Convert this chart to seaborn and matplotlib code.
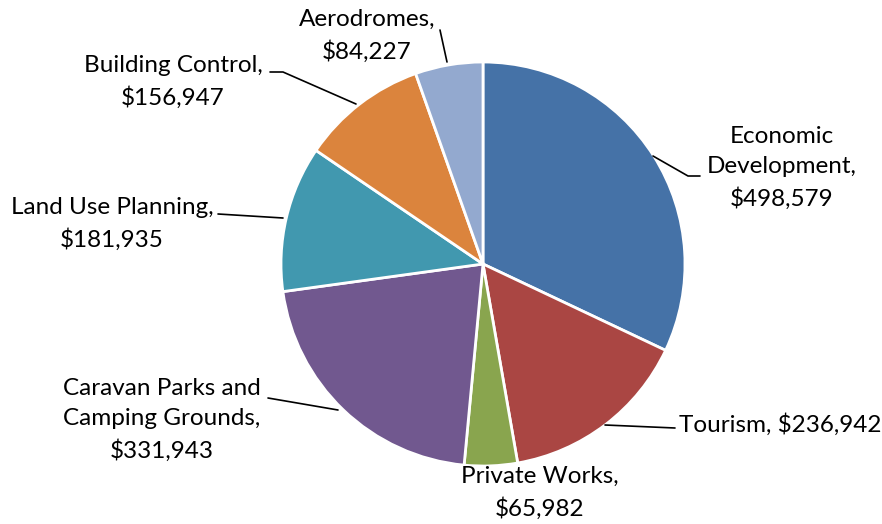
import matplotlib
matplotlib.use("Agg")
import matplotlib.pyplot as plt
import seaborn as sns

# Expenditure by business activity
categories = ["Economic Development", "Tourism", "Private Works",
              "Caravan Parks and Camping Grounds", "Land Use Planning",
              "Building Control", "Aerodromes"]
values = [498579, 236942, 65982, 331943, 181935, 156947, 84227]
label_text = ["Economic\nDevelopment,\n$498,579", "Tourism, $236,942",
              "Private Works,\n$65,982",
              "Caravan Parks and\nCamping Grounds,\n$331,943",
              "Land Use Planning,\n$181,935", "Building Control,\n$156,947",
              "Aerodromes,\n$84,227"]
colors = ["#4572A7", "#AA4643", "#89A54E", "#71588F", "#4198AF", "#DB843D", "#93A9CF"]

sns.set_theme(style="white")
plt.rcParams["font.family"] = ["Lato", "DejaVu Sans"]

W, H = 882, 524
fig = plt.figure(figsize=(W / 100, H / 100), dpi=100)
ax = fig.add_axes([0, 0, 1, 1])

cx, cy, r = 483, H - 264, 202
ax.pie(values, colors=colors, startangle=90, counterclock=False,
       center=(cx, cy), radius=r, frame=True,
       wedgeprops=dict(edgecolor="white", linewidth=2))
ax.set_xlim(0, W)
ax.set_ylim(0, H)
ax.set_aspect("equal")
ax.axis("off")

def Y(y):
    return H - y

# label placement: (text x, text y, leader line points) in pixel coords
layout = [
    (782, 168, [(653, 156), (688, 176), (700, 176)]),
    (780, 425, [(605, 425), (675, 428)]),
    (540, 493, None),
    (162, 420, [(268, 398), (338, 410)]),
    (112, 224, [(218, 214), (283, 218)]),
    (173, 82, [(270, 72), (283, 72), (356, 104)]),
    (367, 36, [(440, 30), (447, 62)]),
]

for txt, (tx, ty, pts) in zip(label_text, layout):
    ax.text(tx, Y(ty), txt, ha="center", va="center", fontsize=17.5,
            color="black", linespacing=1.55)
    if pts:
        ax.plot([p[0] for p in pts], [Y(p[1]) for p in pts],
                color="black", linewidth=1.2)

fig.savefig("out.png", dpi=100)
